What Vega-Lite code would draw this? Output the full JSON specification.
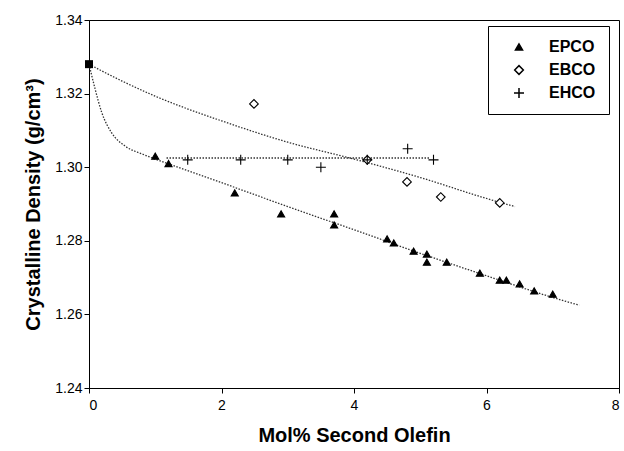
{
  "$schema": "https://vega.github.io/schema/vega-lite/v6.json",
  "autosize": "none",
  "width": 530,
  "height": 368,
  "padding": {"left": 89, "top": 20, "right": 5, "bottom": 63},
  "background": "white",
  "config": {
    "view": {"stroke": "black", "strokeWidth": 1},
    "font": "Liberation Sans",
    "axis": {
      "grid": false,
      "domainColor": "black",
      "tickColor": "black",
      "labelColor": "black",
      "titleColor": "black",
      "labelFont": "Liberation Sans",
      "titleFont": "Liberation Sans",
      "labelFontSize": 14,
      "titleFontSize": 20,
      "titleFontWeight": "bold",
      "tickSize": 5
    },
    "legend": {
      "orient": "none",
      "legendX": 399,
      "legendY": 6,
      "strokeColor": "black",
      "strokeWidth": 1,
      "fillColor": "white",
      "padding": 13,
      "rowPadding": 7,
      "labelFont": "Liberation Sans",
      "labelFontSize": 16,
      "labelFontWeight": "bold",
      "labelColor": "black",
      "labelOffset": 22,
      "symbolOffset": 10
    }
  },
  "datasets": {
    "points": [
      {"series": "EPCO", "molpct": 1.0, "density": 1.303},
      {"series": "EPCO", "molpct": 1.2, "density": 1.301},
      {"series": "EPCO", "molpct": 2.2, "density": 1.293},
      {"series": "EPCO", "molpct": 2.9, "density": 1.2873},
      {"series": "EPCO", "molpct": 3.7, "density": 1.2873},
      {"series": "EPCO", "molpct": 3.7, "density": 1.2843},
      {"series": "EPCO", "molpct": 4.5, "density": 1.2805},
      {"series": "EPCO", "molpct": 4.6, "density": 1.2794},
      {"series": "EPCO", "molpct": 4.9, "density": 1.2772},
      {"series": "EPCO", "molpct": 5.1, "density": 1.2764},
      {"series": "EPCO", "molpct": 5.1, "density": 1.2742},
      {"series": "EPCO", "molpct": 5.4, "density": 1.2742},
      {"series": "EPCO", "molpct": 5.9, "density": 1.2712},
      {"series": "EPCO", "molpct": 6.2, "density": 1.2693},
      {"series": "EPCO", "molpct": 6.3, "density": 1.2693},
      {"series": "EPCO", "molpct": 6.5, "density": 1.2683},
      {"series": "EPCO", "molpct": 6.72, "density": 1.2664},
      {"series": "EPCO", "molpct": 7.0, "density": 1.2655},
      {"series": "EBCO", "molpct": 2.49, "density": 1.3172},
      {"series": "EBCO", "molpct": 4.2, "density": 1.302},
      {"series": "EBCO", "molpct": 4.8, "density": 1.296},
      {"series": "EBCO", "molpct": 5.31, "density": 1.2919},
      {"series": "EBCO", "molpct": 6.2, "density": 1.2903},
      {"series": "EHCO", "molpct": 1.49, "density": 1.302},
      {"series": "EHCO", "molpct": 2.29, "density": 1.302},
      {"series": "EHCO", "molpct": 3.0, "density": 1.302},
      {"series": "EHCO", "molpct": 3.5, "density": 1.300},
      {"series": "EHCO", "molpct": 4.2, "density": 1.302},
      {"series": "EHCO", "molpct": 4.81, "density": 1.305},
      {"series": "EHCO", "molpct": 5.2, "density": 1.302}
    ],
    "fits": [
      {"fit": "EPCO", "molpct": 0, "density": 1.328},
      {"fit": "EPCO", "molpct": 0.04, "density": 1.3250},
      {"fit": "EPCO", "molpct": 0.09, "density": 1.3214},
      {"fit": "EPCO", "molpct": 0.19, "density": 1.3150},
      {"fit": "EPCO", "molpct": 0.34, "density": 1.3094},
      {"fit": "EPCO", "molpct": 0.54, "density": 1.3058},
      {"fit": "EPCO", "molpct": 0.8, "density": 1.3036},
      {"fit": "EPCO", "molpct": 1.0, "density": 1.3022},
      {"fit": "EPCO", "molpct": 1.5, "density": 1.2990},
      {"fit": "EPCO", "molpct": 2.0, "density": 1.2958},
      {"fit": "EPCO", "molpct": 3.0, "density": 1.2893},
      {"fit": "EPCO", "molpct": 4.0, "density": 1.2830},
      {"fit": "EPCO", "molpct": 5.0, "density": 1.2766},
      {"fit": "EPCO", "molpct": 6.0, "density": 1.2705},
      {"fit": "EPCO", "molpct": 7.0, "density": 1.2646},
      {"fit": "EPCO", "molpct": 7.4, "density": 1.2625},
      {"fit": "EBCO", "molpct": 0, "density": 1.328},
      {"fit": "EBCO", "molpct": 0.2, "density": 1.3261},
      {"fit": "EBCO", "molpct": 0.5, "density": 1.3234},
      {"fit": "EBCO", "molpct": 1.0, "density": 1.3193},
      {"fit": "EBCO", "molpct": 2.0, "density": 1.3126},
      {"fit": "EBCO", "molpct": 3.0, "density": 1.3068},
      {"fit": "EBCO", "molpct": 4.0, "density": 1.3022},
      {"fit": "EBCO", "molpct": 5.0, "density": 1.2972},
      {"fit": "EBCO", "molpct": 6.0, "density": 1.2915},
      {"fit": "EBCO", "molpct": 6.43, "density": 1.2893},
      {"fit": "EHCO", "molpct": 1.17, "density": 1.3025},
      {"fit": "EHCO", "molpct": 5.15, "density": 1.3025}
    ],
    "origin": [
      {"molpct": 0, "density": 1.328}
    ]
  },
  "layer": [
    {
      "data": {"name": "fits"},
      "mark": {"type": "line", "color": "#333333", "strokeWidth": 1.3, "strokeDash": [1.5, 1.5], "interpolate": "monotone"},
      "encoding": {
        "x": {"field": "molpct", "type": "quantitative", "scale": {"domain": [0, 8]}, "axis": {"values": [0, 2, 4, 6, 8], "format": "d", "title": "Mol% Second Olefin", "titlePadding": 13, "labelPadding": 5}},
        "y": {"field": "density", "type": "quantitative", "scale": {"domain": [1.24, 1.34]}, "axis": {"values": [1.24, 1.26, 1.28, 1.30, 1.32, 1.34], "format": ".2f", "title": "Crystalline Density (g/cm³)", "titlePadding": 11}},
        "detail": {"field": "fit"}
      }
    },
    {
      "data": {"name": "points"},
      "mark": {"type": "point", "stroke": "black", "strokeWidth": 1.1, "opacity": 1},
      "encoding": {
        "x": {"field": "molpct", "type": "quantitative"},
        "y": {"field": "density", "type": "quantitative"},
        "shape": {"field": "series", "type": "nominal", "scale": {"domain": ["EPCO", "EBCO", "EHCO"], "range": ["triangle-up", "diamond", "M-1,0H1M0,-1V1"]}, "title": null},
        "fill": {"field": "series", "type": "nominal", "scale": {"domain": ["EPCO", "EBCO", "EHCO"], "range": ["black", "white", "transparent"]}, "title": null},
        "size": {"field": "series", "type": "nominal", "scale": {"domain": ["EPCO", "EBCO", "EHCO"], "range": [50, 100, 144]}, "title": null}
      }
    },
    {
      "data": {"name": "origin"},
      "mark": {"type": "point", "shape": "square", "filled": true, "color": "black", "size": 64, "opacity": 1},
      "encoding": {
        "x": {"field": "molpct", "type": "quantitative"},
        "y": {"field": "density", "type": "quantitative"}
      }
    }
  ]
}
